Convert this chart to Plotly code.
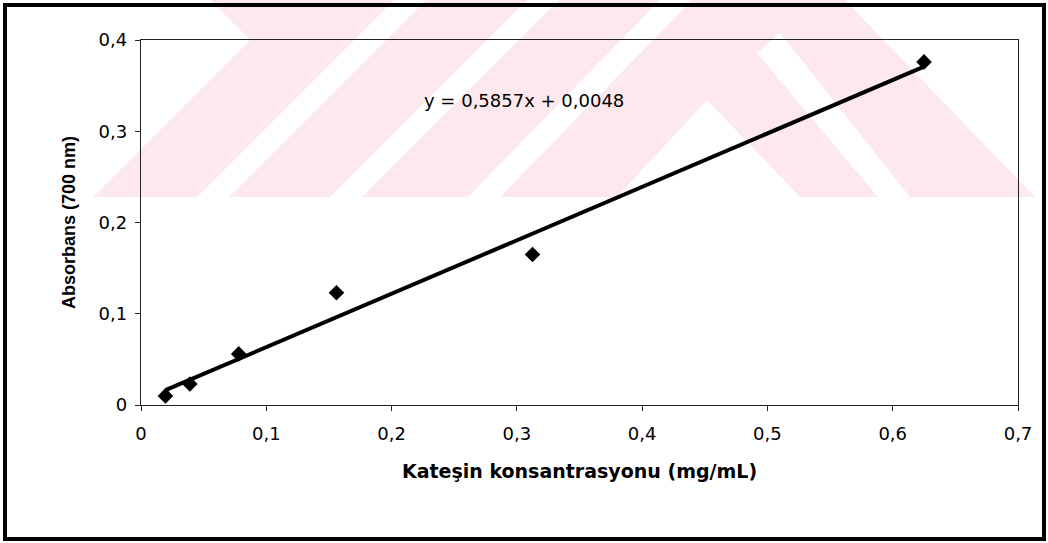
import plotly.graph_objects as go

# Catechin standard curve: absorbance at 700 nm vs. concentration
concentration = [0.0195, 0.039, 0.078, 0.156, 0.3125, 0.625]   # mg/mL
absorbance = [0.010, 0.023, 0.056, 0.123, 0.165, 0.376]
slope = 0.5857
intercept = 0.0048

x_ticks = [0, 0.1, 0.2, 0.3, 0.4, 0.5, 0.6, 0.7]
y_ticks = [0, 0.1, 0.2, 0.3, 0.4]

FIG_W, FIG_H = 1048, 543
M_L, M_R, M_T, M_B = 141, 30, 40, 138
PW = FIG_W - M_L - M_R
PH = FIG_H - M_T - M_B


def to_paper(pts):
    """Convert pixel points (origin top-left) to a paper-space SVG path."""
    out = []
    for i, (X, Y) in enumerate(pts):
        xp = (X - M_L) / PW
        yp = (FIG_H - M_B - Y) / PH
        out.append(("M" if i == 0 else "L") + f"{xp:.5f},{yp:.5f}")
    return " ".join(out) + " Z"


fig = go.Figure()

# linear trendline from the fitted equation
x_line = [min(concentration), max(concentration)]
y_line = [slope * v + intercept for v in x_line]
fig.add_trace(go.Scatter(
    x=x_line, y=y_line, mode="lines",
    line=dict(color="black", width=4),
    hoverinfo="skip", showlegend=False,
))

fig.add_trace(go.Scatter(
    x=concentration, y=absorbance, mode="markers",
    marker=dict(symbol="diamond", size=12, color="black"),
    showlegend=False,
))

eq_text = f"y = {slope:.4f}x + {intercept:.4f}".replace(".", ",")
fig.add_annotation(
    x=0.3057, y=0.334, xref="x", yref="y", text=eq_text, showarrow=False,
    font=dict(family="DejaVu Sans", size=18, color="black"),
)

# light background emblem
PINK = "#fde9ed"
shapes = []
emblem = [(93, 197), (250, 40), (210, 0), (845, 0), (1035, 197)]
shapes.append(dict(type="path", path=to_paper(emblem), xref="paper", yref="paper",
                   fillcolor=PINK, line=dict(width=0), layer="below"))
gaps = [
    [(197, 197), (229, 197), (426, 0), (394, 0)],
    [(330, 197), (362, 197), (559, 0), (527, 0)],
    [(468, 197), (500, 197), (692, 0), (660, 0)],
    [(617, 197), (707, 100), (800, 197)],
    [(757, 53), (780, 33), (910, 197), (878, 197)],
]
for g in gaps:
    shapes.append(dict(type="path", path=to_paper(g), xref="paper", yref="paper",
                       fillcolor="white", line=dict(width=0), layer="below"))

# outer frame
shapes.append(dict(
    type="rect", xref="paper", yref="paper",
    x0=(5 - M_L) / PW, x1=(1044 - M_L) / PW,
    y0=(FIG_H - M_B - 539) / PH, y1=(FIG_H - M_B - 5) / PH,
    line=dict(color="black", width=4), fillcolor="rgba(0,0,0,0)", layer="above",
))

fig.update_layout(
    width=FIG_W, height=FIG_H,
    margin=dict(l=M_L, r=M_R, t=M_T, b=M_B),
    paper_bgcolor="white", plot_bgcolor="rgba(0,0,0,0)",
    separators=", ",
    showlegend=False,
    shapes=shapes,
    font=dict(family="DejaVu Sans", size=18, color="black"),
)

fig.update_xaxes(
    range=[0, 0.7], tickvals=x_ticks,
    ticktext=[("%g" % v).replace(".", ",") for v in x_ticks],
    showgrid=False, zeroline=False,
    showline=True, linecolor="#222", linewidth=1.3, mirror=True,
    ticks="outside", ticklen=5, tickcolor="#222",
    tickfont=dict(family="DejaVu Sans", size=18),
    ticklabelstandoff=7,
    title=dict(text="<b>Kateşin konsantrasyonu (mg/mL)</b>",
               font=dict(family="DejaVu Sans", size=19), standoff=21),
)
fig.update_yaxes(
    range=[0, 0.4], tickvals=y_ticks,
    ticktext=[("%g" % v).replace(".", ",") for v in y_ticks],
    showgrid=False, zeroline=False,
    showline=True, linecolor="#222", linewidth=1.3, mirror=True,
    ticks="outside", ticklen=5, tickcolor="#222",
    tickfont=dict(family="DejaVu Sans", size=18),
    ticklabelstandoff=4,
    title=dict(text="<b>Absorbans (700 nm)</b>",
               font=dict(family="Liberation Sans", size=18), standoff=18),
)

fig.write_html("out.html")
